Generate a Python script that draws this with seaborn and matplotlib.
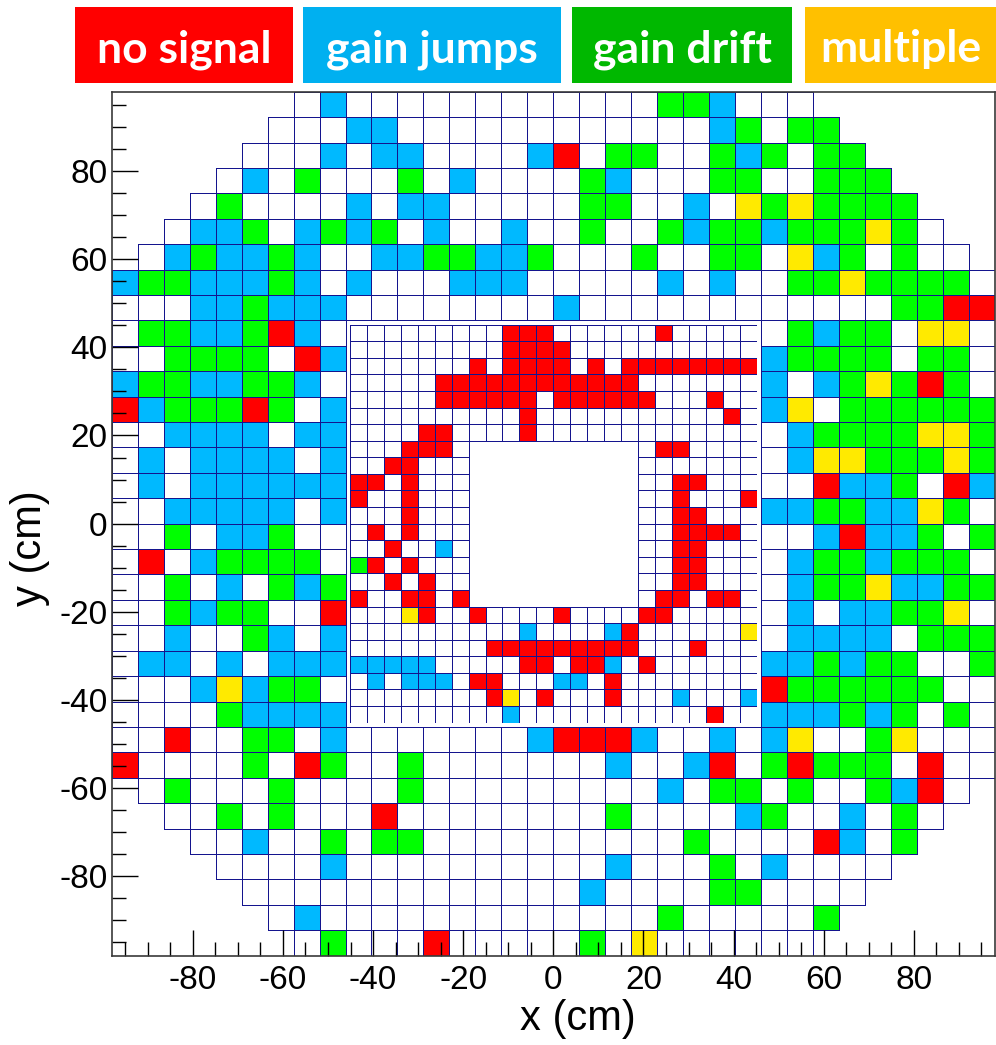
import numpy as np
import pandas as pd
import matplotlib
matplotlib.use("Agg")
import matplotlib.pyplot as plt
from matplotlib.colors import ListedColormap, to_rgba
from matplotlib.patches import Rectangle
import seaborn as sns

# Channel status codes: W = ok, R = no signal, B = gain jumps, G = gain drift,
# Y = multiple problems, "." = no channel at this position.
STATUS_CODES = ["W", "R", "B", "G", "Y"]
STATUS_LABELS = ["no signal", "gain jumps", "gain drift", "multiple"]
CELL_COLORS = ["#ffffff", "#ff0000", "#00b9ff", "#00ff00", "#ffea00"]
LEGEND_COLORS = ["#ff0000", "#00b0f0", "#00b800", "#ffc000"]

# Outer (large) modules, 34 x 34, top row first; columns grouped 9|8|8|9.
OUTER_ROWS = [
    ".......WB WWWWWWWW WWWWGGBW WW.......",
    "......WWW BBWWWWWW WWWWWWBG WGG......",
    ".....WWWB WBBWWWWB RWGGWWGB GWGG.....",
    "....WBWGW WWGWBWWW WGBWWWGG WWGGG....",
    "...WGWWWW BWBBWWWW WGGWWBWY GYGGGG...",
    "..WBBGWBG BGWBWWBW WGWWGBGG BGGGYGW..",
    ".WBGBBGBW WBBGGBBG WWWGWWGG WYBGWGWW.",
    "BGGBBBGBW BWWWBBBW WWWWBWBW WGGYGGGGW",
    "WWWBBGBBB WWWWWWWW BWWWWWWW WWWWWGGRR",
    "WGGBBGRBW ........ ........ WGBGGWYYW",
    "WWGGGGWRB ........ ........ BGGGGWGGW",
    "BGGBBGGBW ........ ........ BWBGYGRGW",
    "RBGGGRGWB ........ ........ BYWGGGGGG",
    "WWBBBBWBB ........ ........ WBGGGGYYG",
    "WBWBBBBWB ........ ........ WBYYGGGYG",
    "WBWBBBBBB ........ ........ WWRBBGWRB",
    "WWBBBBBWB ........ ........ BBGGBBYGW",
    "WWGWBBGWW ........ ........ WWBRBBGWG",
    "WRWBGGGGW ........ ........ WBGGBGGGW",
    "WWGWBWGBG ........ ........ WBGGYBBGG",
    "WWGBGGWWR ........ ........ WBWBBGGYW",
    "WWBWWGBWB ........ ........ WBBBBWGGG",
    "WBBWBWBBB ........ ........ BBGBGGWWG",
    "WWWBYBGGW ........ ........ RGGGGGGWW",
    "WWWWGBBBB ........ ........ BBBGBGWGW",
    "WWRWWGGWB WWWWWWWB RRRBWWBW BYWWGYWWW",
    "RWWWWGWRG WWGWWWWW WWBWWBRW GRGGGWRWW",
    ".WGWWWGWW WWGWWWWW WWWWBWGG WGWWGBRW.",
    "..WWGWGWW WRWWWWWW WWGWWWWB GWWBWGW..",
    "...WWBWWG WGGWWWWW WWWWWGWW WWRBWG...",
    "....WWWWB WWWWWWWW WWBWWWGW BWWWW....",
    ".....WWWW WWWWWWWW WBWWWWGG WWWW.....",
    "......WBW WWWWWWWW WWWWGWWW WWG......",
    ".......WG WWWRWWWW WGWYWWWW WW.......",
]

# Inner (small) modules, 24 x 24, top row first; "." marks the beam hole.
INNER_ROWS = [
    "WWWWWWW WWRRRWWWWW WRWWWWW",
    "WWWWWWW WWRRRRWWWW WWWWWWW",
    "WWWWWWW RWRRRRWRWR RRRRRRR",
    "WWWWWRR RRRRRRRRRR WWWWWWW",
    "WWWWWRR RRRRWRRRRR RWWWRWW",
    "WWWWWWW WWWRWWWWWW WWWWWRW",
    "WWWWRRW WWWRWWWWWW WWWWWWW",
    "WWWRRRW .......... WRRWWWW",
    "WWRRWWW .......... WWWWWWW",
    "RRWRWWW .......... WWRRWWW",
    "RWWRWWW .......... WWRWWWR",
    "WWWRWWW .......... WWRRWWW",
    "WRWRWWW .......... WWRRRRW",
    "WWRWWBW .......... WWRRWWW",
    "GRWRWWW .......... WWRRWWW",
    "WWRWRWW .......... WWRRWWW",
    "RWWRRWR .......... WRRWRRW",
    "WWWYRWW RWWWWRWWWW RRWWWWW",
    "WWWWWWW WWWBWWWWBR WWWWWWY",
    "WWWWWWW WRRRRRRRRR WWWRWWW",
    "BBBBBWW WWWRRWRRBW RWWWWWW",
    "WBWBBBW RRWWWBBWRW WWWWWWW",
    "WWWWWWW WRYWRWWWRW WWBWWWB",
    "WWWWWWW WWBWWWWWWW WWWWRWW",
]

X_TICKS = [-80, -60, -40, -20, 0, 20, 40, 60, 80]
Y_TICKS = [-80, -60, -40, -20, 0, 20, 40, 60, 80]

HALF_OUTER = 98.0   # cm, half width of the outer module grid
HALF_INNER = 45.15  # cm, half width of the inner module grid
GRID_COLOR = "#14148e"

FIG_W, FIG_H = 996, 1045


def to_frame(rows):
    lookup = {c: i for i, c in enumerate(STATUS_CODES)}
    table = [[lookup.get(c, np.nan) for c in r.replace(" ", "")] for r in rows]
    return pd.DataFrame(table, dtype=float)


def draw_modules(frame, target):
    sns.heatmap(frame, ax=target, mask=frame.isna(), cmap=ListedColormap(CELL_COLORS),
                vmin=-0.5, vmax=len(STATUS_CODES) - 0.5, linewidths=0.7,
                linecolor=GRID_COLOR, cbar=False, xticklabels=False, yticklabels=False)
    # outline only the modules that exist
    mesh = target.collections[-1]
    present = ~frame.isna().to_numpy().ravel()
    edge = np.array([to_rgba(GRID_COLOR) if p else (0, 0, 0, 0) for p in present])
    mesh.set_edgecolor(edge)


outer = to_frame(OUTER_ROWS)
inner = to_frame(INNER_ROWS)
n_out = outer.shape[1]
cell = 2 * HALF_OUTER / n_out


def xpos(v):
    return (np.asarray(v, dtype=float) + HALF_OUTER) / cell


def ypos(v):
    return (HALF_OUTER - np.asarray(v, dtype=float)) / cell


plt.rcParams["font.family"] = ["Liberation Sans", "DejaVu Sans"]

fig = plt.figure(figsize=(FIG_W / 100, FIG_H / 100), dpi=100)
ax = fig.add_axes([111.7 / FIG_W, 1 - 955.6 / FIG_H, 883.3 / FIG_W, 863.9 / FIG_H])
draw_modules(outer, ax)

# inner high-granularity section sits in the middle of the outer section
f0 = (HALF_OUTER - HALF_INNER) / (2 * HALF_OUTER)
fw = 2 * HALF_INNER / (2 * HALF_OUTER)
ax_in = ax.inset_axes([f0, f0, fw, fw])
draw_modules(inner, ax_in)
ax_in.set_xticks([])
ax_in.set_yticks([])
ax_in.patch.set_alpha(0)
for s in ax_in.spines.values():
    s.set_visible(False)

# frame and ticks in cm
for s in ax.spines.values():
    s.set_visible(True)
    s.set_color("#3a3a3a")
    s.set_linewidth(1.2)
ax.set_xlim(0, n_out)
ax.set_ylim(n_out, 0)
ax.set_xticks(xpos(X_TICKS))
ax.set_xticklabels([str(t) for t in X_TICKS])
ax.set_yticks(ypos(Y_TICKS))
ax.set_yticklabels([str(t) for t in Y_TICKS])
minor = np.arange(-95, 96, 5)
ax.set_xticks(xpos(minor), minor=True)
ax.set_yticks(ypos(minor), minor=True)
ax.tick_params(which="both", direction="in", top=False, right=False,
               color="black", width=1.0, labelsize=24)
ax.tick_params(which="major", length=19)
ax.tick_params(which="minor", length=10)
ax.tick_params(axis="y", which="major", pad=3)
ax.tick_params(axis="x", which="major", pad=7)
ax.tick_params(axis="y", labelrotation=0)

ax.set_xlabel("x (cm)", fontsize=30)
ax.set_ylabel("y (cm)", fontsize=30)
ax.xaxis.set_label_coords(0.528, -0.05)
ax.yaxis.set_label_coords(-0.07, 0.472)

# status legend boxes along the top
boxes = [(75, 293), (303, 561), (572, 792), (805, 1000)]
for (x0, x1), label, color in zip(boxes, STATUS_LABELS, LEGEND_COLORS):
    fig.add_artist(Rectangle((x0 / FIG_W, 1 - 83 / FIG_H), (x1 - x0) / FIG_W, 76 / FIG_H,
                             transform=fig.transFigure, facecolor=color, edgecolor="none"))
    fig.text((x0 + min(x1, FIG_W)) / 2 / FIG_W, 1 - 62 / FIG_H, label, color="white",
             fontsize=32, fontweight="bold", family=["Lato", "DejaVu Sans"],
             ha="center", va="baseline")

fig.savefig("out.png", dpi=100)
